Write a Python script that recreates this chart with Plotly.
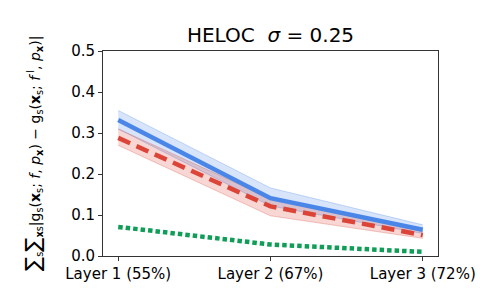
import plotly.graph_objects as go

categories = ["Layer 1 (55%)", "Layer 2 (67%)", "Layer 3 (72%)"]
blue_mean = [0.332, 0.141, 0.064]
blue_lo = [0.310, 0.122, 0.055]
blue_hi = [0.355, 0.166, 0.076]
red_mean = [0.288, 0.121, 0.051]
red_lo = [0.270, 0.098, 0.043]
red_hi = [0.310, 0.140, 0.060]
green_mean = [0.071, 0.028, 0.010]
y_ticks = [0.0, 0.1, 0.2, 0.3, 0.4, 0.5]

xs = list(range(len(categories)))
BLUE = "#4a86e8"
RED = "#db4437"
GREEN = "#0f9d58"

fig = go.Figure()

def band(lo, hi, fill, line):
    fig.add_trace(go.Scatter(x=xs, y=hi, mode="lines", line=dict(color=line, width=1),
                             showlegend=False, hoverinfo="skip"))
    fig.add_trace(go.Scatter(x=xs, y=lo, mode="lines", line=dict(color=line, width=1),
                             fill="tonexty", fillcolor=fill, showlegend=False, hoverinfo="skip"))

band(blue_lo, blue_hi, "rgba(74,134,232,0.22)", "rgba(74,134,232,0.3)")
band(red_lo, red_hi, "rgba(219,68,55,0.22)", "rgba(219,68,55,0.3)")

fig.add_trace(go.Scatter(x=xs, y=blue_mean, mode="lines", line=dict(color=BLUE, width=4.5), showlegend=False))
fig.add_trace(go.Scatter(x=xs, y=red_mean, mode="lines", line=dict(color=RED, width=4.5, dash="13px,7px"), showlegend=False))
fig.add_trace(go.Scatter(x=xs, y=green_mean, mode="lines", line=dict(color=GREEN, width=4.5, dash="4.5px,3px"), showlegend=False))

font = dict(family="DejaVu Sans", size=15, color="black")

fig.update_layout(
    width=488, height=293,
    margin=dict(l=95, r=58, t=43, b=45),
    paper_bgcolor="white", plot_bgcolor="white",
    font=font,
    title=dict(text="HELOC  <i>σ</i> = 0.25", x=(95 + 430) / 2 / 488, xanchor="center",
               y=1 - 27 / 293, yanchor="middle", font=dict(family="DejaVu Sans", size=20, color="black")),
    xaxis=dict(range=[-0.1, 2.1], tickmode="array", tickvals=xs, ticktext=categories,
               showgrid=False, zeroline=False, showline=True, linecolor="#333", linewidth=1,
               mirror=True, ticks="outside", ticklen=4, tickcolor="#333", tickfont=font),
    yaxis=dict(range=[0, 0.5], tickmode="array", tickvals=y_ticks,
               ticktext=[f"{v:.1f}" for v in y_ticks],
               showgrid=False, zeroline=False, showline=True, linecolor="#333", linewidth=1,
               mirror=True, ticks="outside", ticklen=4, tickcolor="#333", tickfont=font),
)

ylabel = ("<span style='font-size:21px'>∑</span><sub>s</sub><span style='font-size:21px'>∑</span><sub><b>x</b>s</sub>"
          "|g<sub>s</sub>(<b>x</b><sub>s</sub>; <i>f</i>, <i>p</i><sub><b>x</b></sub>)"
          " − g<sub>s</sub>(<b>x</b><sub>s</sub>; <i>f</i><sup> l</sup>, <i>p</i><sub><b>x</b></sub>)|")
fig.add_annotation(text=ylabel, xref="paper", yref="paper", x=-70 / 335, y=(248 - 146) / 205,
                   xanchor="center", yanchor="middle", textangle=-90, showarrow=False,
                   font=dict(family="DejaVu Sans", size=14, color="black"))

fig.write_html("out.html")
